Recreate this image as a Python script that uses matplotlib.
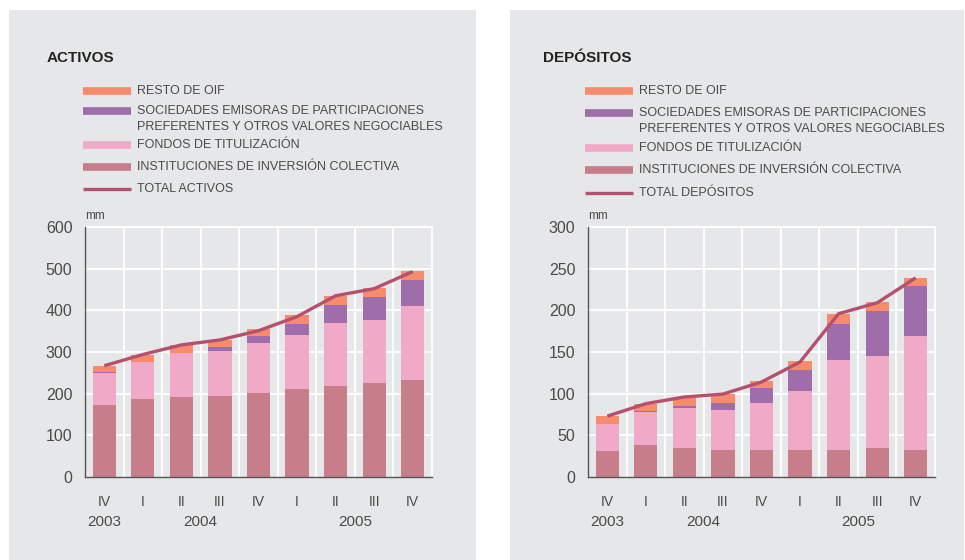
import numpy as np
import matplotlib.pyplot as plt
from matplotlib.lines import Line2D
from matplotlib.patches import Rectangle
from matplotlib.transforms import blended_transform_factory

plt.rcParams['font.family'] = ['Liberation Sans', 'DejaVu Sans']

# Data (mm), quarters IV-2003 .. IV-2005
quarters = ['IV', 'I', 'II', 'III', 'IV', 'I', 'II', 'III', 'IV']
years = ['2003', '2004', '2005']
year_pos = [0, 2.5, 6.5]

# ACTIVOS
act_iic = [172, 187, 192, 194, 201, 211, 218, 225, 233]
act_fondos = [78, 89, 106, 108, 121, 130, 152, 152, 178]
act_sepp = [3, 0, 0, 10, 17, 26, 43, 55, 62]
act_resto = [13, 17, 19, 18, 16, 22, 22, 22, 22]
act_total = [267, 294, 317, 329, 351, 385, 435, 452, 493]

# DEPOSITOS
dep_iic = [31, 39, 34.5, 32, 32, 33, 33, 34.5, 32]
dep_fondos = [32.5, 39, 48, 48, 56.5, 70, 107, 110.5, 137]
dep_sepp = [0, 1.5, 3, 8.5, 18, 25, 44, 54, 60]
dep_resto = [9.5, 8.5, 10, 11.5, 8.5, 11, 12, 11, 10]
dep_total = [73, 88, 96, 99.5, 114, 138, 196, 209, 239]

c_iic = '#C87D8A'
c_fondos = '#F1A9C8'
c_sepp = '#A06DAB'
c_resto = '#F68C6C'
c_total = '#B5506F'
bg = '#E6E7E8'
txt = '#4a4a4a'

W, H = 965, 560
fig = plt.figure(figsize=(W / 100, H / 100), dpi=100)
fig.patch.set_facecolor('white')


def fx(px):
    return px / W


def fy(py):
    return 1 - py / H


# gray panels
for x0, x1 in [(9, 476), (510, 964)]:
    fig.patches.append(Rectangle((fx(x0), 0), fx(x1) - fx(x0), fy(10),
                                 transform=fig.transFigure, facecolor=bg,
                                 edgecolor='none', zorder=-5))


def panel(ax_left, title, title_x, leg_x, leg_rows, total_label, ymax, ystep,
          iic, fondos, sepp, resto, total):
    ax = fig.add_axes([fx(ax_left), fy(477), fx(347), fy(227) - fy(477)])
    ax.set_facecolor(bg)
    ax.set_zorder(2)
    x = np.arange(len(quarters))
    w = 0.6
    ax.bar(x, iic, w, color=c_iic, zorder=2)
    b1 = np.array(iic)
    ax.bar(x, fondos, w, bottom=b1, color=c_fondos, zorder=2)
    b2 = b1 + np.array(fondos)
    ax.bar(x, sepp, w, bottom=b2, color=c_sepp, zorder=2)
    b3 = b2 + np.array(sepp)
    ax.bar(x, resto, w, bottom=b3, color=c_resto, zorder=2)
    ax.plot(x, total, color=c_total, lw=2.4, zorder=3, solid_capstyle='butt')

    ax.set_xlim(-0.5, len(quarters) - 0.5)
    ax.set_ylim(0, ymax)
    ticks = np.arange(0, ymax + 1, ystep)
    ax.set_yticks(ticks)
    for t in ticks[1:]:
        ax.axhline(t, color='white', lw=1.3, zorder=1, clip_on=False)
    for k in range(1, len(quarters) + 1):
        ax.axvline(k - 0.5, color='white', lw=1.3, zorder=1, clip_on=False)
    for s in ['top', 'right']:
        ax.spines[s].set_visible(False)
    for s in ['left', 'bottom']:
        ax.spines[s].set_color('#555555')
        ax.spines[s].set_linewidth(1.0)
        ax.spines[s].set_zorder(4)
    ax.tick_params(axis='y', length=0, pad=9, labelsize=11.5, labelcolor=txt)
    ax.set_xticks(x)
    ax.set_xticklabels(quarters)
    ax.tick_params(axis='x', length=0, pad=13, labelsize=10, labelcolor=txt)
    tr = blended_transform_factory(ax.transData, ax.transAxes)
    for yl, xp in zip(years, year_pos):
        ax.text(xp, -0.18, yl, transform=tr, ha='center', va='center',
                fontsize=11, color=txt)
    ax.text(0, 1.045, 'mm', transform=ax.transAxes, ha='left', va='center',
            fontsize=8.5, color=txt)

    # title
    fig.text(fx(title_x), fy(58), title, fontsize=11, fontweight='bold',
             color='#222222', ha='left', va='center')

    # legend
    labels = ['RESTO DE OIF',
              'SOCIEDADES EMISORAS DE PARTICIPACIONES\nPREFERENTES Y OTROS VALORES NEGOCIABLES',
              'FONDOS DE TITULIZACIÓN',
              'INSTITUCIONES DE INVERSIÓN COLECTIVA',
              total_label]
    colors = [c_resto, c_sepp, c_fondos, c_iic, c_total]
    widths = [5.5, 5.5, 5.5, 5.5, 2.4]
    for lab, col, lw, (ry, ty) in zip(labels, colors, widths, leg_rows):
        fig.add_artist(Line2D([fx(leg_x), fx(leg_x + 48)], [fy(ry), fy(ry)],
                              transform=fig.transFigure, color=col, lw=lw,
                              solid_capstyle='butt'))
        fig.text(fx(leg_x + 54), fy(ty), lab, fontsize=9, color=txt,
                 ha='left', va='center', linespacing=1.45)
    return ax


panel(85, 'ACTIVOS', 47, 83,
      [(91, 91), (111, 119), (145, 145), (167, 167), (189, 189)],
      'TOTAL ACTIVOS', 600, 100,
      act_iic, act_fondos, act_sepp, act_resto, act_total)
panel(588, 'DEPÓSITOS', 543, 585,
      [(91, 91), (113, 121), (148, 148), (170, 170), (193, 193)],
      'TOTAL DEPÓSITOS', 300, 50,
      dep_iic, dep_fondos, dep_sepp, dep_resto, dep_total)

fig.savefig('out.png', dpi=100, facecolor='white')
